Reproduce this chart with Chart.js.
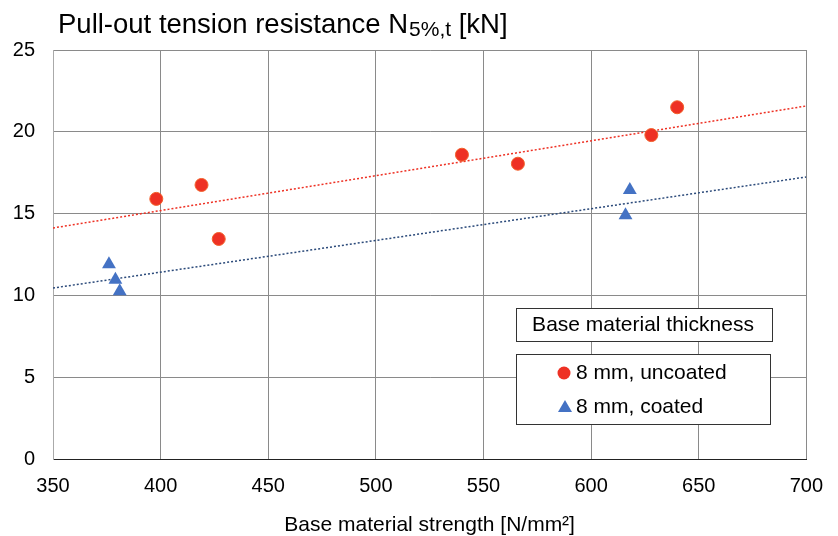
<!DOCTYPE html>
<html>
<head>
<meta charset="utf-8">
<script src="https://cdn.jsdelivr.net/npm/chart.js@4"></script>
<style>
  html, body { margin: 0; padding: 0; background: #fff; }
  #wrap { width: 838px; height: 536px; }
</style>
</head>
<body>
<div id="wrap"><canvas id="chart" width="838" height="536"></canvas></div>
<script>
const FONT = '"Liberation Sans", Arial, sans-serif';

// measured points
const uncoatedX = [398, 419, 427, 540, 566, 628, 640];
const uncoatedY = [15.9, 16.75, 13.45, 18.6, 18.05, 19.8, 21.5];
const coatedX = [376, 379, 381, 616, 618];
const coatedY = [11.9, 10.95, 10.25, 14.9, 16.45];

// trend line ends
const trendX = [350, 700];
const uncoatedTrendY = [14.12, 21.58];
const coatedTrendY = [10.45, 17.24];

const legendTitle = 'Base material thickness';
const seriesNames = ['8 mm, uncoated', '8 mm, coated'];
const red = '#EE3124';
const blue = '#4472C4';
const navy = '#2B4A7A';

const pts = (xs, ys) => xs.map((x, i) => ({ x, y: ys[i] }));

// title with subscript + the two boxed legend parts
const extras = {
  id: 'extras',
  afterDraw(chart) {
    const ctx = chart.ctx;
    ctx.save();
    ctx.fillStyle = '#000';
    ctx.textBaseline = 'alphabetic';
    ctx.textAlign = 'left';
    let x = 58;
    ctx.font = `27.5px ${FONT}`;
    ctx.fillText('Pull-out tension resistance N', x, 33);
    x += ctx.measureText('Pull-out tension resistance N').width + 1;
    ctx.font = `21px ${FONT}`;
    ctx.fillText('5%,t', x, 36);
    x += ctx.measureText('5%,t').width;
    ctx.font = `27.5px ${FONT}`;
    ctx.fillText(' [kN]', x, 33);

    // legend title box
    ctx.lineWidth = 1;
    ctx.strokeStyle = '#333';
    ctx.fillStyle = '#fff';
    ctx.fillRect(516, 308, 256, 33);
    ctx.strokeRect(516.5, 308.5, 256, 33);
    ctx.fillStyle = '#000';
    ctx.font = `21px ${FONT}`;
    ctx.textAlign = 'center';
    ctx.textBaseline = 'middle';
    ctx.fillText(legendTitle, 643, 325);

    // legend items box
    ctx.fillStyle = '#fff';
    ctx.fillRect(516, 354, 254, 70);
    ctx.strokeRect(516.5, 354.5, 254, 70);
    ctx.textAlign = 'left';
    ctx.fillStyle = '#000';
    ctx.fillText(seriesNames[0], 576, 373);
    ctx.fillText(seriesNames[1], 576, 407);
    ctx.fillStyle = red;
    ctx.beginPath();
    ctx.arc(564, 373, 6.5, 0, Math.PI * 2);
    ctx.fill();
    ctx.fillStyle = blue;
    ctx.beginPath();
    ctx.moveTo(565, 400);
    ctx.lineTo(572, 412);
    ctx.lineTo(558, 412);
    ctx.closePath();
    ctx.fill();
    ctx.restore();
  }
};

new Chart(document.getElementById('chart'), {
  type: 'scatter',
  data: {
    datasets: [
      {
        label: 'uncoated trend', data: pts(trendX, uncoatedTrendY), showLine: true,
        borderColor: red, borderWidth: 1.5, borderDash: [2, 2], pointRadius: 0, order: 3
      },
      {
        label: 'coated trend', data: pts(trendX, coatedTrendY), showLine: true,
        borderColor: navy, borderWidth: 1.5, borderDash: [2, 2], pointRadius: 0, order: 4
      },
      {
        label: seriesNames[0], data: pts(uncoatedX, uncoatedY),
        pointStyle: 'circle', pointRadius: 6.5, backgroundColor: red,
        borderColor: '#F2602A', borderWidth: 1, order: 1
      },
      {
        label: seriesNames[1], data: pts(coatedX, coatedY),
        pointStyle: 'triangle', pointRadius: 8, backgroundColor: blue,
        borderColor: blue, borderWidth: 0, order: 2
      }
    ]
  },
  options: {
    responsive: false,
    animation: false,
    layout: { padding: { top: 50, right: 31, left: 0, bottom: 0 } },
    plugins: { legend: { display: false }, tooltip: { enabled: false } },
    scales: {
      x: {
        min: 350, max: 700,
        afterFit: s => { s.height = 77; },
        ticks: { stepSize: 50, color: '#000', padding: 15, font: { family: FONT, size: 20 } },
        grid: { color: '#8a8a8a', drawTicks: false },
        border: { color: '#222' },
        title: {
          display: true, text: 'Base material strength [N/mm²]', color: '#000',
          font: { family: FONT, size: 21 }, padding: { top: 0, bottom: -2 }
        }
      },
      y: {
        min: 0, max: 25,
        afterFit: s => { s.width = 53; },
        ticks: { stepSize: 5, color: '#000', padding: 18, font: { family: FONT, size: 20 } },
        grid: { color: '#8a8a8a', drawTicks: false },
        border: { color: '#aaa' }
      }
    }
  },
  plugins: [extras]
});
</script>
</body>
</html>
